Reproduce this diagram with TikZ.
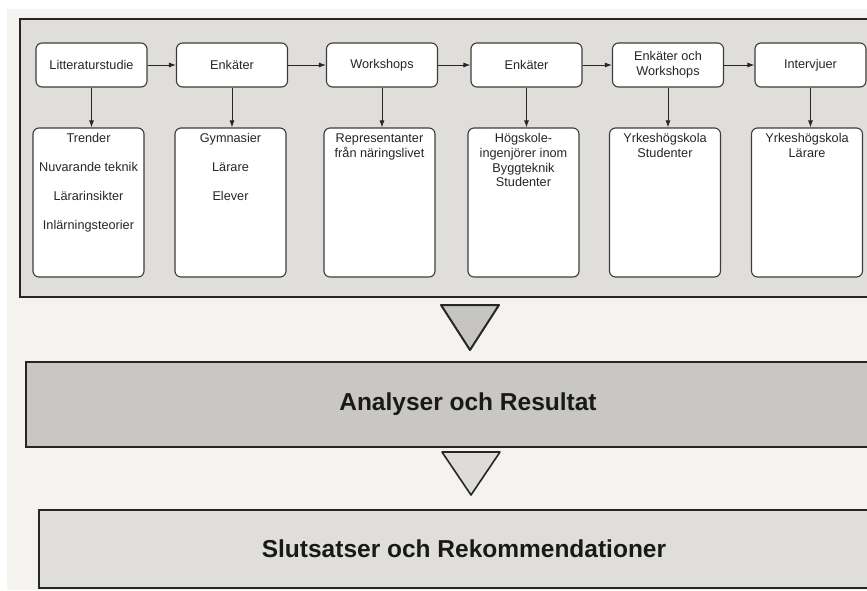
\documentclass[tikz,border=0pt]{standalone}
\usepackage{fontspec}
\setmainfont{Liberation Sans}
\usetikzlibrary{arrows.meta}
\definecolor{bgc}{HTML}{F4F3EF}
\definecolor{panelc}{HTML}{DFDEDA}
\definecolor{bandc}{HTML}{C8C7C3}
\definecolor{triA}{HTML}{C6C5C1}
\definecolor{triB}{HTML}{DDDCD8}
\definecolor{edgec}{HTML}{3C3C3C}
\begin{document}
\begin{tikzpicture}[x=1pt,y=-1pt,
  small/.style={font=\fontsize{12.7}{14.7}\selectfont, text=black!85},
  topbox/.style={draw=edgec, line width=1.1pt, fill=white, rounded corners=6pt,
    minimum width=111pt, minimum height=44pt, inner sep=0pt, align=center, small},
  botbox/.style={draw=edgec, line width=1.1pt, fill=white, rounded corners=6pt,
    minimum width=111pt, minimum height=149pt, inner sep=0pt},
  lbl/.style={anchor=north, align=center, inner sep=0pt, small},
  flow/.style={draw=black!85, line width=0.9pt, -{Latex[length=7pt,width=5pt]}},
  panel/.style={draw=black!85, line width=2.2pt},
  bigtext/.style={font=\fontsize{24.5}{29}\selectfont\bfseries, text=black!90}]
\clip (0,0) rectangle (867,590);
\fill[white] (0,0) rectangle (867,590);
\fill[bgc] (7,9) rectangle (867,590);
% upper panel
\draw[panel, fill=panelc] (20,19) rectangle (885,297);
% top row
\node[topbox] (t1) at (91.5,65) {Litteraturstudie};
\node[topbox] (t2) at (232,65) {Enkäter};
\node[topbox] (t3) at (382,65) {Workshops};
\node[topbox] (t4) at (526.5,65) {Enkäter};
\node[topbox] (t5) at (668,65) {Enkäter och\\Workshops};
\node[topbox] (t6) at (810.5,65) {Intervjuer};
% bottom row
\node[botbox] (b1) at (88.5,202.5) {};
\node[botbox] (b2) at (230.5,202.5) {};
\node[botbox] (b3) at (379.5,202.5) {};
\node[botbox] (b4) at (523.5,202.5) {};
\node[botbox] (b5) at (665,202.5) {};
\node[botbox] (b6) at (807,202.5) {};
\node[lbl] (l1) at ([yshift=-6pt]b1.north) {Trender\\[14.3pt]Nuvarande teknik\\[14.3pt]Lärarinsikter\\[14.3pt]Inlärningsteorier};
\node[lbl] (l2) at ([yshift=-6pt]b2.north) {Gymnasier\\[14.3pt]Lärare\\[14.3pt]Elever};
\node[lbl] (l3) at ([yshift=-6pt]b3.north) {Representanter\\från näringslivet};
\node[lbl] (l4) at ([yshift=-6pt]b4.north) {Högskole-\\ingenjörer inom\\Byggteknik\\Studenter};
\node[lbl] (l5) at ([yshift=-6pt]b5.north) {Yrkeshögskola\\Studenter};
\node[lbl] (l6) at ([yshift=-6pt]b6.north) {Yrkeshögskola\\Lärare};
% horizontal arrows
\draw[flow] (t1) -- (t2);
\draw[flow] (t2) -- (t3);
\draw[flow] (t3) -- (t4);
\draw[flow] (t4) -- (t5);
\draw[flow] (t5) -- (t6);
% vertical arrows
\foreach \i in {1,...,6}{
  \draw[flow] (t\i.south) -- (t\i.south |- b\i.north);
}
% triangle 1
\draw[line width=2pt, draw=black!85, fill=triA, line join=round] (441,305) -- (499,305) -- (470,350) -- cycle;
% analyser band
\draw[panel, fill=bandc] (26,362) rectangle (885,447);
\node[bigtext] (ana) at (468,404) {Analyser och Resultat};
% triangle 2
\draw[line width=1.6pt, draw=black!85, fill=triB, line join=round] (442,452) -- (500,452) -- (471,495) -- cycle;
% slutsatser band
\draw[panel, fill=panelc] (39,510) rectangle (885,588);
\node[bigtext] (slut) at (464,549) {Slutsatser och Rekommendationer};
\end{tikzpicture}
\end{document}
